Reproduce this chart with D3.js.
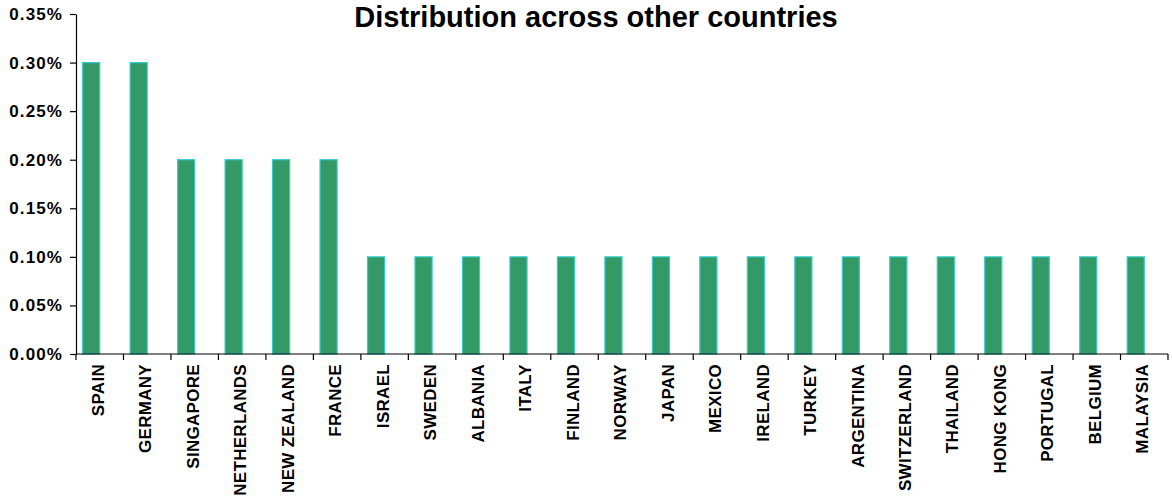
<!DOCTYPE html>
<html>
<head>
<meta charset="utf-8">
<script src="https://cdn.jsdelivr.net/npm/d3@7"></script>
<style>
  html, body { margin: 0; padding: 0; background: #ffffff; }
  svg { display: block; font-family: Arial, "Liberation Sans", sans-serif; }
</style>
</head>
<body>
<svg id="chart" width="1172" height="497"></svg>
<script>
// Share of responses by country (percent)
const countries = ["SPAIN", "GERMANY", "SINGAPORE", "NETHERLANDS", "NEW ZEALAND", "FRANCE",
  "ISRAEL", "SWEDEN", "ALBANIA", "ITALY", "FINLAND", "NORWAY", "JAPAN", "MEXICO",
  "IRELAND", "TURKEY", "ARGENTINA", "SWITZERLAND", "THAILAND", "HONG KONG",
  "PORTUGAL", "BELGIUM", "MALAYSIA"];
const shares = [0.30, 0.30, 0.20, 0.20, 0.20, 0.20,
  0.10, 0.10, 0.10, 0.10, 0.10, 0.10, 0.10, 0.10,
  0.10, 0.10, 0.10, 0.10, 0.10, 0.10,
  0.10, 0.10, 0.10];
const yTicks = [0, 0.05, 0.10, 0.15, 0.20, 0.25, 0.30, 0.35];
const title = "Distribution across other countries";

const svg = d3.select("#chart");
const plot = { left: 76, right: 1168, top: 14, bottom: 354 };

const x = d3.scaleBand()
  .domain(countries)
  .range([plot.left, plot.right])
  .paddingInner(0)
  .paddingOuter(0);

const y = d3.scaleLinear()
  .domain([0, 0.35])
  .range([plot.bottom, plot.top]);

// Title
svg.append("text")
  .attr("x", 596)
  .attr("y", 27)
  .attr("text-anchor", "middle")
  .attr("font-size", 29)
  .attr("font-weight", "bold")
  .attr("fill", "#000")
  .text(title);

// Bars
const bw = x.bandwidth();
svg.append("g")
  .selectAll("rect")
  .data(countries)
  .join("rect")
  .attr("x", (d) => x(d) + bw * 0.14)
  .attr("y", (d, i) => y(shares[i]))
  .attr("width", bw * 0.36)
  .attr("height", (d, i) => y(0) - y(shares[i]))
  .attr("fill", "#339966")
  .attr("stroke", "#33CCCC")
  .attr("stroke-width", 1.2);

// Y axis
const yAxis = d3.axisLeft(y)
  .tickValues(yTicks)
  .tickSize(6)
  .tickSizeOuter(0)
  .tickPadding(7)
  .tickFormat((d) => d3.format(".2f")(d) + "%");

const gy = svg.append("g")
  .attr("transform", `translate(${plot.left},0)`)
  .call(yAxis);
gy.select(".domain").attr("stroke", "#000").attr("stroke-width", 1.2);
gy.selectAll(".tick line").attr("stroke", "#000").attr("stroke-width", 1.2);
gy.selectAll(".tick text")
  .attr("fill", "#000")
  .attr("font-size", 17)
  .attr("font-weight", "bold")
  .attr("letter-spacing", "1.1px")
  .attr("font-family", "Arial, 'Liberation Sans', sans-serif");

// X axis: ticks at category boundaries
const gx = svg.append("g");
gx.append("line")
  .attr("x1", plot.left).attr("x2", plot.right)
  .attr("y1", plot.bottom).attr("y2", plot.bottom)
  .attr("stroke", "#000").attr("stroke-width", 1.2);

const boundaries = countries.map((d) => x(d)).concat([x(countries[countries.length - 1]) + bw]);
gx.selectAll("line.tick")
  .data(boundaries)
  .join("line")
  .attr("class", "tick")
  .attr("x1", (d) => d).attr("x2", (d) => d)
  .attr("y1", plot.bottom).attr("y2", plot.bottom + 6)
  .attr("stroke", "#000").attr("stroke-width", 1.2);

gx.selectAll("text")
  .data(countries)
  .join("text")
  .attr("transform", (d) => `translate(${x(d) + bw / 2 - 2},${plot.bottom + 10}) rotate(-90)`)
  .attr("dy", "0.36em")
  .attr("text-anchor", "end")
  .attr("font-size", 17)
  .attr("font-weight", "bold")
  .attr("letter-spacing", "0.3px")
  .attr("fill", "#000")
  .text((d) => d);
</script>
</body>
</html>
